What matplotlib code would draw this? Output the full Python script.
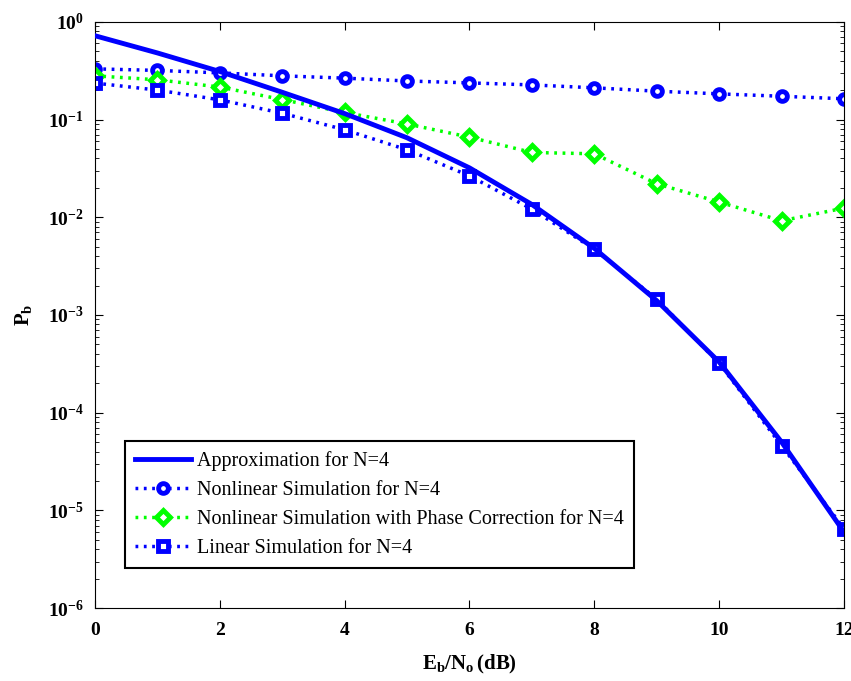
import numpy as np
import matplotlib
matplotlib.use("Agg")
import matplotlib.pyplot as plt

# Eb/No (dB)
ebno = [0, 1, 2, 3, 4, 5, 6, 7, 8, 9, 10, 11, 12]

approx = [0.72, 0.48, 0.31, 0.19, 0.115, 0.065, 0.032, 0.0135, 0.0048,
          0.0014, 3.3e-4, 5.0e-5, 6.0e-6]
nonlinear = [0.33, 0.318, 0.30, 0.28, 0.265, 0.248, 0.237, 0.226, 0.211,
             0.195, 0.183, 0.173, 0.163]
phase_corr = [0.28, 0.255, 0.215, 0.16, 0.118, 0.090, 0.066, 0.046, 0.0446,
              0.022, 0.0143, 0.0092, 0.0124]
linear = [0.236, 0.20, 0.159, 0.116, 0.0785, 0.049, 0.0265, 0.0121, 0.0047,
          0.00145, 3.2e-4, 4.6e-5, 6.5e-6]

labels = ['Approximation for N=4',
          'Nonlinear Simulation for N=4',
          'Nonlinear Simulation with Phase Correction for N=4',
          'Linear Simulation for N=4']

plt.rcParams['font.family'] = ['Liberation Serif', 'DejaVu Serif']
plt.rcParams['mathtext.fontset'] = 'custom'
plt.rcParams['mathtext.rm'] = 'Liberation Serif:bold'
plt.rcParams['mathtext.it'] = 'Liberation Serif:bold'
plt.rcParams['mathtext.bf'] = 'Liberation Serif:bold'
plt.rcParams['axes.unicode_minus'] = False

blue = '#0000ff'
green = '#00ff00'
dotted = (0, (0.8, 1.6))

fig = plt.figure(figsize=(8.51, 6.81), dpi=100)
ax = fig.add_axes([0.1116, 0.107, 0.8802, 0.861])

ax.semilogy(ebno, approx, '-', color=blue, lw=3.5, label=labels[0], zorder=5)
ax.semilogy(ebno, nonlinear, linestyle=dotted, color=blue, lw=2.5, marker='o',
            ms=7, mew=3.5, mfc='white', label=labels[1])
ax.semilogy(ebno, phase_corr, linestyle=dotted, color=green, lw=2.5, marker='D',
            ms=7.5, mew=3.5, mfc='white', label=labels[2])
ax.semilogy(ebno, linear, linestyle=dotted, color=blue, lw=2.5, marker='s',
            ms=7, mew=3.5, mfc='white', label=labels[3])

ax.set_xlim(0, 12)
ax.set_ylim(1e-6, 1)
ax.set_xticks([0, 2, 4, 6, 8, 10, 12])
ax.tick_params(which='both', direction='in', top=True, right=True)
ax.tick_params(which='major', length=6, labelsize=14)
ax.tick_params(axis='x', which='major', pad=10)
ax.tick_params(axis='y', which='major', pad=8)
ax.tick_params(which='minor', length=3)
for lbl in ax.get_xticklabels() + ax.get_yticklabels():
    lbl.set_fontweight('bold')

ax.set_xlabel(r'$\mathrm{E_b/N_o\,(dB)}$', fontsize=15, labelpad=10)
ax.set_ylabel(r'$\mathrm{P_b}$', fontsize=15, labelpad=10)

leg = ax.legend(loc='lower left', bbox_to_anchor=(0.04, 0.068),
                borderaxespad=0,
                prop={'family': 'Liberation Serif', 'size': 14.5},
                fancybox=False, edgecolor='black', framealpha=1,
                handlelength=2.8, handletextpad=0.3, borderpad=0.5,
                labelspacing=0.5)
leg.get_frame().set_linewidth(1.5)

fig.savefig('out.png', dpi=100)
